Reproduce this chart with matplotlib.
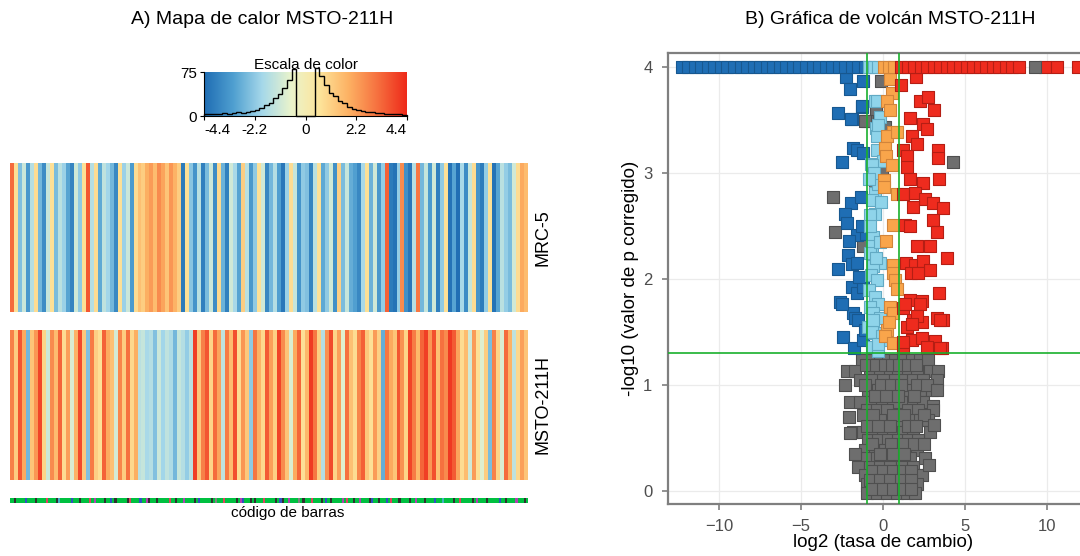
import numpy as np
import matplotlib.pyplot as plt
from matplotlib.colors import LinearSegmentedColormap, ListedColormap

plt.rcParams['font.family'] = ['Liberation Sans', 'DejaVu Sans']

# =============================================================================
# Data
# =============================================================================

# heatmap rows (log2 fold change per gene, ordered as in the barcode)
mrc5 = [
    3.2, 0.7, -2.4, -1.2, -3.3, -1.6, 0.8, -2.6, -3.6, -1.3,
    0.7, -2.5, -1.5, -2.0, -3.0, -3.8, -1.1, -2.2, 0.7, 3.6,
    -1.6, 0.8, -2.9, -1.4, -1.9, -2.6, -3.7, 0.7, -2.0, -1.2,
    -3.2, 0.8, 1.5, 1.2, 1.9, 2.3, 1.6, 2.6, 2.1, 1.4,
    2.4, 1.8, 1.2, -4.0, 0.7, -2.3, -3.4, -1.5, -3.9, -2.5,
    -1.2, -3.6, 0.9, -2.7, -3.9, -1.1, -1.8, -3.0, 1.2, -1.5,
    -3.3, -2.2, 0.7, -1.1, -3.7, -2.6, -1.6, -3.1, -4.1, -2.0,
    0.8, -1.3, -3.4, -2.2, -2.4, -3.8, -1.5, 0.7, -2.9, -2.2,
    -1.1, -3.5, 1.1, -2.5, -1.3, -2.8, -3.1, -3.7, -1.8, 0.7,
    -2.7, -1.1, -3.3, -2.1, 3.4, -4.0, -4.2, -2.1, 2.6, -3.5,
    -4.1, -1.6, 3.0, -2.6, -1.3, -3.2, -1.1, -3.9, -2.2, 0.7,
    -4.2, -3.0, -4.3, -1.8, -3.6, -1.3, 0.8, -3.4, -4.0, -2.1,
    0.7, -4.2, -3.0, -1.5, -2.1, -2.5, -1.1, 0.8, 2.0, 1.6,
]
msto211h = [
    2.8, 1.2, 3.6, 2.0, -2.6, 1.4, 2.4, 3.9, 1.0, -1.2,
    2.6, 1.6, 3.3, 0.8, 2.2, -0.9, 1.8, 3.8, 1.3, -2.4,
    2.9, 1.1, 0.7, 3.4, 2.0, 1.5, -1.0, 2.7, 1.2, 3.1,
    0.9, 1.9, -1.5, -1.3, -1.8, -1.6, -2.4, -1.2, -1.9, -1.4,
    -1.7, -2.6, -1.3, -1.6, -2.1, -1.5, 4.0, 1.3, 2.8, 3.6,
    1.0, 3.2, 2.1, -1.4, 2.9, 1.6, 3.7, 0.8, 2.4, 1.3,
    -2.2, 3.0, 1.8, 0.9, 3.5, 2.2, 1.1, 3.9, 2.6, 1.4,
    -0.9, 2.0, 3.3, 0.7, 1.7, 4.1, 3.0, 1.2, -1.6, 2.5,
    3.8, 1.0, 2.2, -0.8, 3.1, 1.5, 0.8, 2.7, 3.4, 1.3,
    0.7, 2.3, 1.1, -2.8, 3.0, 2.0, 1.4, 3.6, 2.5, 1.0,
    3.9, 2.9, 1.7, 3.3, 4.0, 2.4, 3.7, 1.5, 3.1, 2.6,
    4.1, 3.5, 2.1, 0.8, 1.6, -1.1, 2.3, 0.7, -0.8, 1.2,
    -2.5, 2.8, 1.0, -0.9, 3.2, 1.8, -1.4, 0.9, 2.2, 1.4,
]
row_labels = ['MRC-5', 'MSTO-211H']

# barcode categories (0 = green, others = marks)
barcode_codes = ('00100003000010000200001500000300010000204000010030100000120000'
                 '30041000100000200100040000103000001060002000001043000101000200'
                 '00010310040000601000200001030100000402001004000013001000302000'
                 '10000100400010000300050000100200000104000010000030010000400010')
barcode_colors = ['#00c040', '#303030', '#e04060', '#3050c0', '#b040b0',
                  '#40b0c0', '#808080']

# colour key histogram
key_ticks = [-4.4, -2.2, 0, 2.2, 4.4]
key_counts = [3, 4, 3, 4, 5, 4, 5, 6, 5, 7, 8, 10, 14, 18, 22, 30, 38, 48, 62, 80,
              0, 0, 0, 0,
              82, 68, 52, 40, 34, 26, 22, 16, 12, 10, 8, 7, 6, 5, 5, 4, 3, 4, 3, 2]

# volcano: points capped at -log10(p) = 4
cap_y = 4
cap_blue_x = [-12.3, -11.9, -11.5, -11.1, -10.7, -10.3, -9.9, -9.5, -9.1, -8.7,
              -8.3, -7.9, -7.5, -7.1, -6.7, -6.3, -5.9, -5.5, -5.1, -4.7, -4.3,
              -3.9, -3.5, -3.1, -2.7, -2.3, -1.9, -1.5, -1.1]
cap_lblue_x = [-0.85, -0.55, -0.3]
cap_orange_x = [0.05, 0.35, 0.65]
cap_red_x = [1.1, 1.5, 1.9, 2.3, 2.7, 3.1, 3.5, 3.9, 4.3, 4.7, 5.1, 5.5, 5.9,
             6.3, 6.7, 7.1, 7.5, 7.9, 8.3, 9.9, 10.6, 11.9]
cap_gray_x = [9.3]

# volcano: remaining genes (log2 fold change, -log10 adjusted p)
blue_pts = [(-2.26, 3.91), (-2.0, 3.8), (-1.24, 3.87), (-2.73, 3.57), (-1.91, 3.51),
            (-1.3, 3.63), (-1.81, 3.24), (-1.57, 3.22), (-2.52, 3.11), (-1.2, 3.19),
            (-1.26, 3.64), (-1.95, 3.51), (-1.97, 2.72), (-2.32, 2.62), (-2.22, 2.53),
            (-1.61, 2.42), (-1.04, 2.43), (-1.3, 2.5), (-2.12, 2.23), (-1.91, 2.14),
            (-2.73, 2.10), (-1.61, 2.15), (-1.91, 1.93), (-1.61, 1.87), (-1.2, 1.93),
            (-2.63, 1.78), (-1.81, 1.68), (-1.71, 1.63), (-2.46, 1.45), (-1.77, 1.35),
            (-1.2, 1.43), (-2.52, 1.77), (-1.51, 1.61), (-1.1, 1.52), (-1.45, 2.02),
            (-2.05, 2.36), (-1.35, 2.78)]
lblue_pts = [(-0.49, 3.68), (-0.18, 3.53), (-0.43, 3.43), (-0.39, 3.35), (-0.39, 3.22),
             (-0.75, 3.09), (-0.02, 3.12), (-0.39, 3.68), (-0.29, 3.46), (-0.69, 3.08),
             (-0.49, 2.81), (-0.69, 2.75), (-0.1, 2.73), (-0.49, 2.62), (-0.79, 2.61),
             (-0.59, 2.40), (-0.69, 2.31), (-0.79, 2.25), (-0.18, 2.15), (-0.59, 2.12),
             (-0.75, 2.04), (-0.39, 1.99), (-0.84, 1.90), (-0.49, 1.83), (-0.29, 1.77),
             (-0.79, 1.74), (-0.59, 1.68), (-0.18, 1.63), (-0.9, 1.55), (-0.49, 1.49),
             (-0.08, 1.43), (-0.69, 1.36), (-0.29, 1.32), (-0.69, 1.50), (-0.59, 1.61),
             (-0.08, 1.46), (-0.29, 1.39), (-0.3, 2.9), (-0.55, 3.0), (-0.8, 2.5),
             (-0.2, 2.35), (-0.45, 2.2), (-0.85, 2.95)]
orange_pts = [(0.43, 3.89), (0.53, 3.76), (0.22, 3.68), (0.43, 3.6), (0.63, 3.39),
              (0.22, 3.35), (0.12, 3.24), (0.18, 3.16), (0.53, 3.08), (0.05, 2.94),
              (0.06, 2.87), (0.84, 3.39), (0.88, 2.80), (0.63, 2.51), (0.18, 2.36),
              (0.59, 2.13), (0.63, 2.06), (0.73, 1.99), (0.84, 1.91), (0.43, 1.74),
              (0.63, 1.68), (0.22, 1.52), (0.12, 1.46), (0.35, 1.6), (0.6, 1.4)]
red_pts = [(2.26, 3.68), (3.12, 3.60), (1.65, 3.52), (2.46, 3.47), (2.67, 3.42),
           (1.75, 3.35), (2.06, 3.28), (1.24, 3.22), (1.45, 3.16), (3.38, 3.22),
           (3.38, 3.14), (1.45, 3.06), (1.65, 2.95), (2.46, 2.91), (3.44, 2.95),
           (1.24, 2.80), (1.96, 2.81), (2.57, 2.76), (1.85, 2.68), (3.08, 2.72),
           (3.65, 2.67), (3.04, 2.56), (1.34, 2.51), (1.65, 2.50), (3.28, 2.45),
           (2.06, 2.31), (2.87, 2.31), (3.89, 2.20), (1.40, 2.15), (1.96, 2.13),
           (2.46, 2.17), (1.69, 2.06), (2.87, 2.09), (2.16, 2.06), (1.65, 1.80),
           (2.36, 1.79), (3.44, 1.87), (1.24, 1.73), (1.85, 1.61), (2.36, 1.60),
           (3.28, 1.63), (3.68, 1.61), (1.45, 1.55), (1.75, 1.43), (2.36, 1.44),
           (3.18, 1.42), (3.58, 1.35), (1.24, 1.36), (2.67, 1.36), (1.1, 3.83),
           (2.02, 3.91), (2.77, 3.72), (1.34, 1.77), (2.26, 1.77), (2.06, 1.65),
           (3.48, 1.61), (1.75, 1.58), (3.48, 1.35), (1.24, 1.41)]
gray_pts = [
    # above the significance line
    (-0.1, 3.87), (-0.4, 3.58), (-1.0, 3.49), (0.05, 3.42), (4.27, 3.11), (-0.5, 2.9),
    (-3.04, 2.78), (-2.93, 2.45), (-1.2, 2.31), (-0.08, 3.02), (-1.1, 3.49), (0.12, 3.44),
    # below it
    (-1.30, 1.24), (-0.69, 1.24), (-0.18, 1.24), (0.33, 1.24), (0.73, 1.24), (1.24, 1.24),
    (1.75, 1.24), (2.26, 1.24), (2.77, 1.24),
    (-2.22, 1.13), (-1.71, 1.13), (-0.79, 1.13), (-0.18, 1.13), (0.43, 1.13), (0.94, 1.13),
    (1.55, 1.13), (2.06, 1.13), (2.87, 1.13), (3.38, 1.13),
    (-1.40, 1.05), (-0.59, 1.05), (0.02, 1.05), (0.73, 1.05), (1.34, 1.05), (1.85, 1.05),
    (2.46, 1.05), (3.28, 1.05),
    (-0.90, 0.95), (-0.29, 0.95), (0.33, 0.95), (1.04, 0.95), (1.65, 0.95), (2.26, 0.95),
    (2.97, 0.95),
    (-2.02, 0.84), (-1.40, 0.84), (-0.69, 0.84), (-0.08, 0.84), (0.63, 0.84), (1.34, 0.84),
    (1.85, 0.84), (2.46, 0.84), (3.05, 0.80),
    (-1.0, 0.76), (-0.39, 0.76), (0.22, 0.76), (1.55, 0.76), (2.16, 0.76), (3.08, 0.76),
    (-0.79, 0.67), (-0.18, 0.67), (1.04, 0.67), (1.65, 0.67), (2.26, 0.67), (2.77, 0.67),
    (-1.81, 0.56), (-1.20, 0.56), (-0.59, 0.56), (0.02, 0.56), (0.63, 0.56), (1.24, 0.56),
    (1.85, 0.56), (2.87, 0.56), (-2.0, 0.55),
    (-0.90, 0.48), (-0.29, 0.48), (0.33, 0.48), (0.94, 0.48), (1.55, 0.48), (2.16, 0.48),
    (-1.10, 0.39), (-0.49, 0.39), (0.12, 0.39), (0.73, 0.39), (1.45, 0.39), (2.06, 0.39),
    (-1.0, 0.31), (-0.39, 0.31), (0.22, 0.31), (1.04, 0.31), (1.65, 0.31), (2.57, 0.31),
    (-1.51, 0.23), (-0.79, 0.23), (-0.18, 0.23), (0.43, 0.23), (1.14, 0.23), (1.85, 0.23),
    (-1.10, 0.15), (-0.39, 0.15), (0.22, 0.15), (0.84, 0.15), (1.45, 0.15), (2.06, 0.15),
    (2.36, 0.15),
    (-1.0, 0.07), (-0.39, 0.07), (0.22, 0.07), (0.84, 0.07), (1.45, 0.07), (2.06, 0.07),
    (-1.0, -0.02), (-0.39, -0.02), (0.22, -0.02), (0.84, -0.02), (1.45, -0.02), (1.96, -0.02),
    (-1.05, 1.19), (-0.45, 1.19), (0.15, 1.19), (0.55, 1.19), (1.0, 1.19), (1.5, 1.19),
    (2.0, 1.19),
    (-1.1, 1.0), (-0.1, 1.0), (0.5, 1.0), (1.1, 1.0), (2.1, 1.0), (2.7, 1.0),
    (-0.5, 0.9), (0.2, 0.9), (0.9, 0.9), (1.9, 0.9),
    (-1.2, 0.72), (-0.6, 0.72), (0.6, 0.72), (1.3, 0.72), (2.5, 0.72),
    (-1.0, 0.61), (-0.3, 0.61), (0.4, 0.61), (1.5, 0.61), (2.0, 0.61),
    (-0.7, 0.44), (0.5, 0.44), (1.2, 0.44), (1.9, 0.44), (2.5, 0.44),
    (-0.2, 0.35), (0.6, 0.35), (1.3, 0.35),
    (-0.6, 0.19), (0.0, 0.19), (0.6, 0.19), (1.2, 0.19), (1.7, 0.19),
    (-0.8, 0.1), (-0.2, 0.1), (0.4, 0.1), (1.1, 0.1), (1.7, 0.1),
    (-0.7, 0.02), (0.0, 0.02), (0.6, 0.02), (1.2, 0.02), (1.7, 0.02),
    (-2.3, 1.0), (-2.1, 0.7), (-1.7, 0.35), (3.3, 0.95), (3.1, 0.62), (2.8, 0.25),
]

fc_cut = 1.0
p_cut = 1.3

# =============================================================================
# Plot
# =============================================================================

heat_cmap = LinearSegmentedColormap.from_list(
    'heat', ['#1f6db3', '#4f9fd0', '#a5d8ea', '#eaf4cc', '#fee49a',
             '#fdb163', '#f6703f', '#ee2a1a'])
vmin, vmax = -4.4, 4.4

fig = plt.figure(figsize=(10.8, 5.56), dpi=100)
W, H = 1080.0, 556.0

def px_axes(x0, y0, x1, y1):
    return fig.add_axes([x0 / W, 1 - y1 / H, (x1 - x0) / W, (y1 - y0) / H])

# ---------------- A) heatmap ----------------
fig.text(262 / W, 1 - 20 / H, 'A) Mapa de calor MSTO-211H', ha='center', va='center',
         fontsize=14)

row_boxes = [(163, 312), (330, 480)]
for vals, label, (ya, yb) in zip([mrc5, msto211h], row_labels, row_boxes):
    ax = px_axes(10, ya, 528, yb)
    ax.imshow(np.array(vals)[None, :], cmap=heat_cmap, vmin=vmin, vmax=vmax,
              aspect='auto', interpolation='nearest')
    ax.set_axis_off()
    fig.text(543 / W, 1 - (ya + yb) / 2 / H, label, rotation=90, ha='center',
             va='center', fontsize=13)

ax_bar = px_axes(10, 498, 528, 503)
codes = [int(c) for c in barcode_codes]
ax_bar.imshow(np.array(codes)[None, :], cmap=ListedColormap(barcode_colors),
              vmin=-0.5, vmax=len(barcode_colors) - 0.5, aspect='auto',
              interpolation='nearest')
ax_bar.set_axis_off()
fig.text(288 / W, 1 - 513 / H, 'código de barras', ha='center', va='center',
         fontsize=11)

# colour key with histogram
ax_key = px_axes(204, 72, 407, 116)
grad = np.linspace(vmin, vmax, 256)[None, :]
ax_key.imshow(grad, cmap=heat_cmap, vmin=vmin, vmax=vmax, aspect='auto',
              extent=[vmin, vmax, 0, 75])
key_edges = np.linspace(vmin, vmax, len(key_counts) + 1)
ax_key.stairs(key_counts, key_edges, color='black', lw=1.0, clip_on=False)
ax_key.set_xlim(vmin, vmax)
ax_key.set_ylim(0, 75)
ax_key.set_xticks(key_ticks)
ax_key.set_xticklabels(['-4.4', '-2.2', '0', '2.2', '4.4'])
ax_key.set_yticks([0, 75])
ax_key.tick_params(labelsize=11, length=3, pad=2)
labs = ax_key.get_xticklabels()
labs[0].set_ha('left')
labs[-1].set_ha('right')
for s in ['top', 'right']:
    ax_key.spines[s].set_visible(False)
ax_key.set_title('Escala de color', fontsize=11, pad=0)

# ---------------- B) volcano ----------------
fig.text(890 / W, 1 - 20 / H, 'B) Gráfica de volcán MSTO-211H', ha='center',
         va='center', fontsize=14)

ax_v = px_axes(667.7, 53.3, 1098.3, 504)
ax_v.set_xlim(-13.15, 13.15)
ax_v.set_ylim(-0.123, 4.133)
ax_v.set_xticks([-10, -5, 0, 5, 10])
ax_v.set_yticks([0, 1, 2, 3, 4])
ax_v.grid(True, color='#ebebeb', lw=0.9)
ax_v.set_axisbelow(True)
for s in ax_v.spines.values():
    s.set_color('#7f7f7f')
    s.set_linewidth(1.6)
ax_v.tick_params(colors='#7f7f7f', labelcolor='#4d4d4d', labelsize=12, length=4,
                 width=1.2, pad=7)

styles = {
    'gray': ('#6e6e6e', '#4f4f4f'),
    'blue': ('#1f6eb4', '#175890'),
    'lblue': ('#8fd4ea', '#62aac4'),
    'orange': ('#f9a54b', '#d2843a'),
    'red': ('#ee2b1e', '#b51e14'),
}

def draw(pts, key):
    pts = np.array(pts)
    face, edge = styles[key]
    ax_v.scatter(pts[:, 0], pts[:, 1], s=64, marker='s', facecolor=face,
                 edgecolor=edge, linewidth=0.8)

draw(gray_pts, 'gray')
draw(blue_pts, 'blue')
draw(lblue_pts, 'lblue')
draw(orange_pts, 'orange')
draw(red_pts, 'red')
for xs, key in [(cap_blue_x, 'blue'), (cap_lblue_x, 'lblue'),
                (cap_orange_x, 'orange'), (cap_red_x, 'red'), (cap_gray_x, 'gray')]:
    draw([(x, cap_y) for x in xs], key)

for xv in (-fc_cut, fc_cut):
    ax_v.axvline(xv, color='#19b02c', lw=1.2, zorder=5)
ax_v.axhline(p_cut, color='#19b02c', lw=1.2, zorder=5)

ax_v.set_xlabel('log2 (tasa de cambio)', fontsize=13.5, labelpad=0)
ax_v.set_ylabel('-log10 (valor de p corregido)', fontsize=13.5, labelpad=3)

fig.savefig('out.png', dpi=100)
